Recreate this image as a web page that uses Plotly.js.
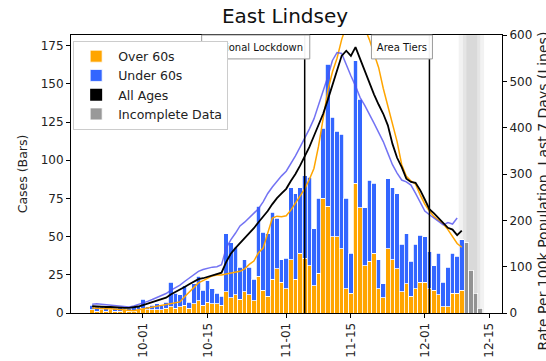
<!DOCTYPE html>
<html>
<head>
<meta charset="utf-8">
<script src="https://cdn.plot.ly/plotly-3.0.1.min.js"></script>
<style>html,body{margin:0;padding:0;background:#fff;}#chart{width:546px;height:361px;}</style>
</head>
<body>
<div id="chart"></div>
<script>
// ---- data (daily, from 2020-09-20) ----
const startDate = '2020-09-20';
const over60Cases = [2,1,2,1,2,1,1,2,1,1,2,
  3,2,2,2,2,3,4,3,4,5,3,6,8,5,7,6,6,5,14,10,12,9,14,12,8,24,15,11,22,29,20,16,
  35,22,39,36,31,18,26,75,70,50,50,42,16,13,85,69,31,34,39,16,10,42,35,29,14,19,11,16,20,20,16,15,12,4,4,13,13,15];
const under60Cases = [3,3,2,2,2,2,3,1,2,3,2,
  6,2,3,4,3,4,16,10,8,13,4,13,16,10,14,10,7,6,38,36,31,21,21,18,14,46,38,41,44,33,15,20,
  47,56,43,54,58,37,49,46,93,78,69,75,59,26,80,71,38,53,46,19,9,46,47,49,31,33,23,29,31,30,24,16,27,16,26,26,24,33];
const incompleteStart = '2020-12-10';
const incompleteCases = [46,28,13,3];
const rateAllAges = [15,14,14,13,13,12,12,11,11,12,14,
  17,20,23,26,29,33,40,45,50,56,62,67,73,75,78,82,85,87,110,128,140,151,160,172,183,196,208,220,235,248,258,268,
  285,300,318,338,358,382,405,430,460,490,520,555,566,555,574,548,520,495,472,450,430,405,365,335,315,290,283,281,265,245,224,215,205,195,184,180,168,178];
const rateUnder60 = [19,20,19,18,17,16,15,14,13,15,18,
  22,25,29,33,37,42,49,55,60,68,75,82,90,94,97,99,100,104,140,158,172,188,196,206,217,225,240,258,272,285,296,306,
  322,339,358,376,397,419,448,479,510,545,562,560,535,512,490,465,448,430,410,390,370,345,320,302,287,283,276,258,240,220,212,205,198,190,195,192,205];
const rateOver60 = [11,10,10,9,9,8,7,6,5,5,7,
  9,11,13,14,16,18,20,22,24,35,45,55,65,70,75,80,82,82,84,86,88,90,95,105,112,130,140,173,205,209,208,210,
  222,237,252,268,288,312,360,420,480,520,550,590,620,650,660,645,615,590,560,530,485,445,410,370,320,295,285,278,255,235,220,208,200,192,180,165,150,142];
const tickDates = ['2020-10-01','2020-10-15','2020-11-01','2020-11-15','2020-12-01','2020-12-15'];
const tickLabels = ['10-01','10-15','11-01','11-15','12-01','12-15'];
const eventDates = ['2020-11-05','2020-12-02'];
const eventLabels = ['National Lockdown','Area Tiers'];

const DAY = 86400000;
function dayList(start, n) {
  const d0 = new Date(start + 'T00:00:00Z');
  const out = [];
  for (let i = 0; i < n; i++) out.push(new Date(d0.getTime() + i * DAY).toISOString().slice(0, 10));
  return out;
}
function shiftDate(d, nDays) {
  return new Date(new Date(d + 'T00:00:00Z').getTime() + nDays * DAY).toISOString().replace('T', ' ').slice(0, 19);
}
const days = dayList(startDate, over60Cases.length);
const grayDays = dayList(incompleteStart, incompleteCases.length);
const FONT = 'DejaVu Sans, sans-serif';

const traces = [
  {type:'bar', name:'Over 60s', x:days, y:over60Cases, width:DAY,
   marker:{color:'#ffa500', line:{color:'#ffffff', width:0.8}}, yaxis:'y'},
  {type:'bar', name:'Under 60s', x:days, y:under60Cases, width:DAY,
   marker:{color:'#3366ff', line:{color:'#ffffff', width:0.8}}, yaxis:'y'},
  {type:'bar', name:'All Ages', x:[days[0]], y:[0], width:DAY,
   marker:{color:'#000000', line:{color:'#000000', width:0}}, yaxis:'y', hoverinfo:'skip'},
  {type:'bar', name:'Incomplete Data', x:grayDays, y:incompleteCases, width:DAY,
   marker:{color:'rgba(128,128,128,0.8)', line:{color:'#ffffff', width:0.8}}, yaxis:'y'},
  {type:'scatter', mode:'lines', x:days, y:rateOver60, yaxis:'y2', showlegend:false,
   line:{color:'#ffa500', width:1.5}},
  {type:'scatter', mode:'lines', x:days, y:rateUnder60, yaxis:'y2', showlegend:false,
   line:{color:'rgba(80,80,240,0.8)', width:1.5}},
  {type:'scatter', mode:'lines', x:days, y:rateAllAges, yaxis:'y2', showlegend:false,
   line:{color:'#000000', width:1.8}}
];

const shapes = [
  {type:'rect', xref:'x', yref:'paper', x0:'2020-12-08 08:00', x1:'2020-12-13 20:00', y0:0, y1:1,
   fillcolor:'rgba(0,0,0,0.05)', line:{width:0}, layer:'below'},
  {type:'rect', xref:'x', yref:'paper', x0:'2020-12-09 06:00', x1:'2020-12-13 00:00', y0:0, y1:1,
   fillcolor:'rgba(0,0,0,0.05)', line:{width:0}, layer:'below'},
  {type:'rect', xref:'x', yref:'paper', x0:'2020-12-10 00:00', x1:'2020-12-12 08:00', y0:0, y1:1,
   fillcolor:'rgba(0,0,0,0.05)', line:{width:0}, layer:'below'}
];
const boxDays = [[-22.3, 1.1], [-12.55, 0.65]];
eventDates.forEach((d, i) => {
  shapes.push({type:'line', xref:'x', yref:'paper', x0:d, x1:d, y0:0, y1:1,
    line:{color:'#000', width:1.5}, layer:'above'});
  shapes.push({type:'rect', xref:'x', yref:'paper',
    x0:shiftDate(d, boxDays[i][0]), x1:shiftDate(d, boxDays[i][1]), y0:0.914, y1:1,
    fillcolor:'rgba(255,255,255,0.95)', line:{color:'#999', width:1}, layer:'above',
    label:{text:eventLabels[i], font:{family:FONT, size:10, color:'#111'}, textposition:'middle center'}});
});

const layout = {
  width:546, height:361,
  margin:{l:71, r:44, t:35, b:48, pad:0},
  paper_bgcolor:'#fff', plot_bgcolor:'#fff',
  font:{family:FONT, size:12, color:'#222'},
  title:{text:'East Lindsey', font:{family:FONT, size:20, color:'#111'}, x:0.522, xanchor:'center', y:0.975, yanchor:'top'},
  barmode:'stack', bargap:0,
  showlegend:true,
  legend:{x:0.005, y:0.98, xanchor:'left', yanchor:'top', traceorder:'normal',
    bgcolor:'#ffffff', bordercolor:'#cccccc', borderwidth:1, itemwidth:34,
    font:{family:FONT, size:12.5, color:'#222'}, tracegroupgap:0},
  xaxis:{type:'date', range:['2020-09-15 10:00','2020-12-17 17:00'],
    tickmode:'array', tickvals:tickDates, ticktext:tickLabels, tickangle:-90,
    ticks:'outside', ticklen:4, tickcolor:'#000', showgrid:false, zeroline:false,
    showline:true, linecolor:'#000', linewidth:1, mirror:true, tickfont:{size:12}},
  yaxis:{range:[0,182], tickmode:'linear', tick0:0, dtick:25, ticks:'outside', ticklen:4, tickcolor:'#000',
    showgrid:false, zeroline:false, showline:true, linecolor:'#000', linewidth:1,
    title:{text:'Cases (Bars)', font:{size:12.5}, standoff:10}},
  yaxis2:{overlaying:'y', side:'right', range:[0,600], tickmode:'linear', tick0:0, dtick:100,
    ticks:'outside', ticklen:4, tickcolor:'#000', showgrid:false, zeroline:false,
    showline:true, linecolor:'#000', linewidth:1},
  annotations:[{text:'Rate Per 100k Population, Last 7 Days (Lines)', textangle:-90,
    xref:'paper', yref:'paper', x:1.094, y:1.02, xanchor:'center', yanchor:'top',
    showarrow:false, font:{family:FONT, size:14, color:'#222'}}],
  shapes:shapes
};

Plotly.newPlot('chart', traces, layout, {displayModeBar:false, staticPlot:true});
</script>
</body>
</html>
